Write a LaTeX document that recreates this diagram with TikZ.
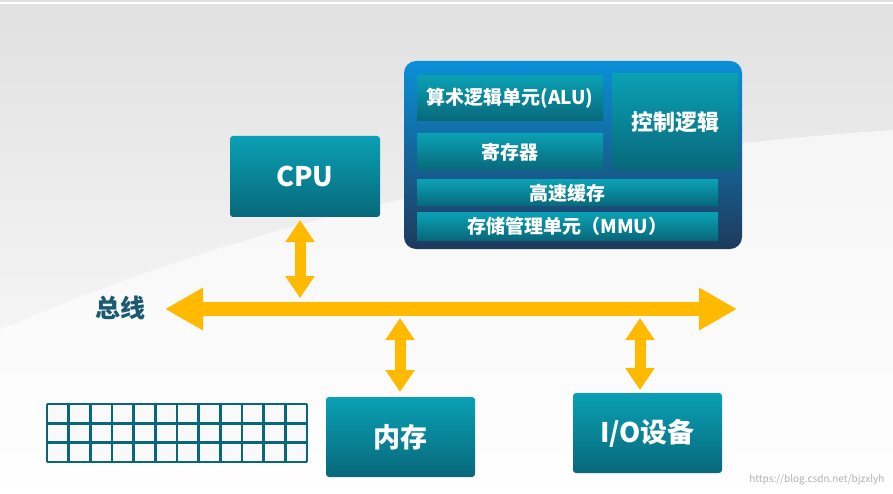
\documentclass[tikz,border=0pt]{standalone}
\usepackage{fontspec}
\setmainfont{Noto Sans CJK SC}
\usetikzlibrary{arrows.meta}
\definecolor{busy}{HTML}{FFBA00}
\definecolor{tealT}{HTML}{0AA0B4}
\definecolor{tealB}{HTML}{08687A}
\definecolor{lbl}{HTML}{1A5A6E}
\definecolor{cT}{HTML}{0A90D8}
\definecolor{cM}{HTML}{1C5082}
\definecolor{cB}{HTML}{1E3A5C}
\tikzset{
 box/.style={draw=none,top color=tealT,bottom color=tealB,text=white,font=\bfseries,inner sep=0pt},
 big/.style={box,font=\bfseries\fontsize{27}{27}\selectfont,rounded corners=3pt},
 small/.style={box,font=\bfseries\fontsize{19}{19}\selectfont},
 bus/.style={busy,line width=14pt,{Triangle[width=40pt,length=38pt]}-{Triangle[width=40pt,length=38pt]}},
 vbus/.style={busy,line width=11pt,{Triangle[width=28pt,length=22pt]}-{Triangle[width=28pt,length=22pt]}}
}
\begin{document}
\begin{tikzpicture}[x=1pt,y=-1pt]
\useasboundingbox (0,0) rectangle (893,494);
\shade[top color=black!12,bottom color=white] (0,0) rectangle (893,494);
\fill[white,opacity=0.6] (0,330) .. controls (300,200) and (600,150) .. (893,130) -- (893,494) -- (0,494) -- cycle;
\draw[white,line width=2pt] (0,3) -- (893,3);
% container
\node[draw=none,rounded corners=12pt,top color=cT,middle color=cM,bottom color=cB,minimum width=338pt,minimum height=188pt,inner sep=0pt] (cont) at (573,155) {};
\node[small,minimum width=186pt,minimum height=45pt] (alu) at (510,98.5) {算术逻辑单元(ALU)};
\node[small,minimum width=186pt,minimum height=36pt] (reg) at (510,152) {寄存器};
\node[small,font=\bfseries\fontsize{22}{22}\selectfont,minimum width=126pt,minimum height=96pt] (ctl) at (675,122) {控制逻辑};
\node[small,minimum width=301pt,minimum height=26pt] (cache) at (567.5,193) {高速缓存};
\node[small,minimum width=301pt,minimum height=27pt] (mmu) at (567.5,226.5) {存储管理单元（MMU）};
% main boxes
\node[big,minimum width=150pt,minimum height=81pt] (cpu) at (305,176.5) {CPU};
\node[big,minimum width=149pt,minimum height=80pt] (mem) at (400.5,437) {内存};
\node[big,minimum width=149pt,minimum height=80pt] (io) at (647.5,433) {I/O设备};
% bus
\coordinate (bl) at (165,309);
\coordinate (br) at (737,309);
\draw[bus] (bl) -- (br);
\node[font=\bfseries\fontsize{25}{25}\selectfont,text=lbl] (lab) at (120,308) {总线};
\coordinate (c1) at (300,220);
\coordinate (c2) at (300,298);
\coordinate (m1) at (400,318);
\coordinate (m2) at (400,392);
\coordinate (i1) at (640,318);
\coordinate (i2) at (640,390);
\draw[vbus] (c1) -- (c2);
\draw[vbus] (m1) -- (m2);
\draw[vbus] (i1) -- (i2);
% grid
\fill[white!95!gray] (47,404) rectangle (307,462);
\foreach \i in {0,...,12} \draw[tealB,line width=2.5pt] (47+21.667*\i,404) -- (47+21.667*\i,462);
\foreach \j in {0,...,3} \draw[tealB,line width=2.5pt] (47,404+19.333*\j) -- (307,404+19.333*\j);
\node[text=black!30,font=\fontsize{10}{10}\selectfont,anchor=east] (wm) at (888,480) {https://blog.csdn.net/bjzxlyh};
\end{tikzpicture}
\end{document}
